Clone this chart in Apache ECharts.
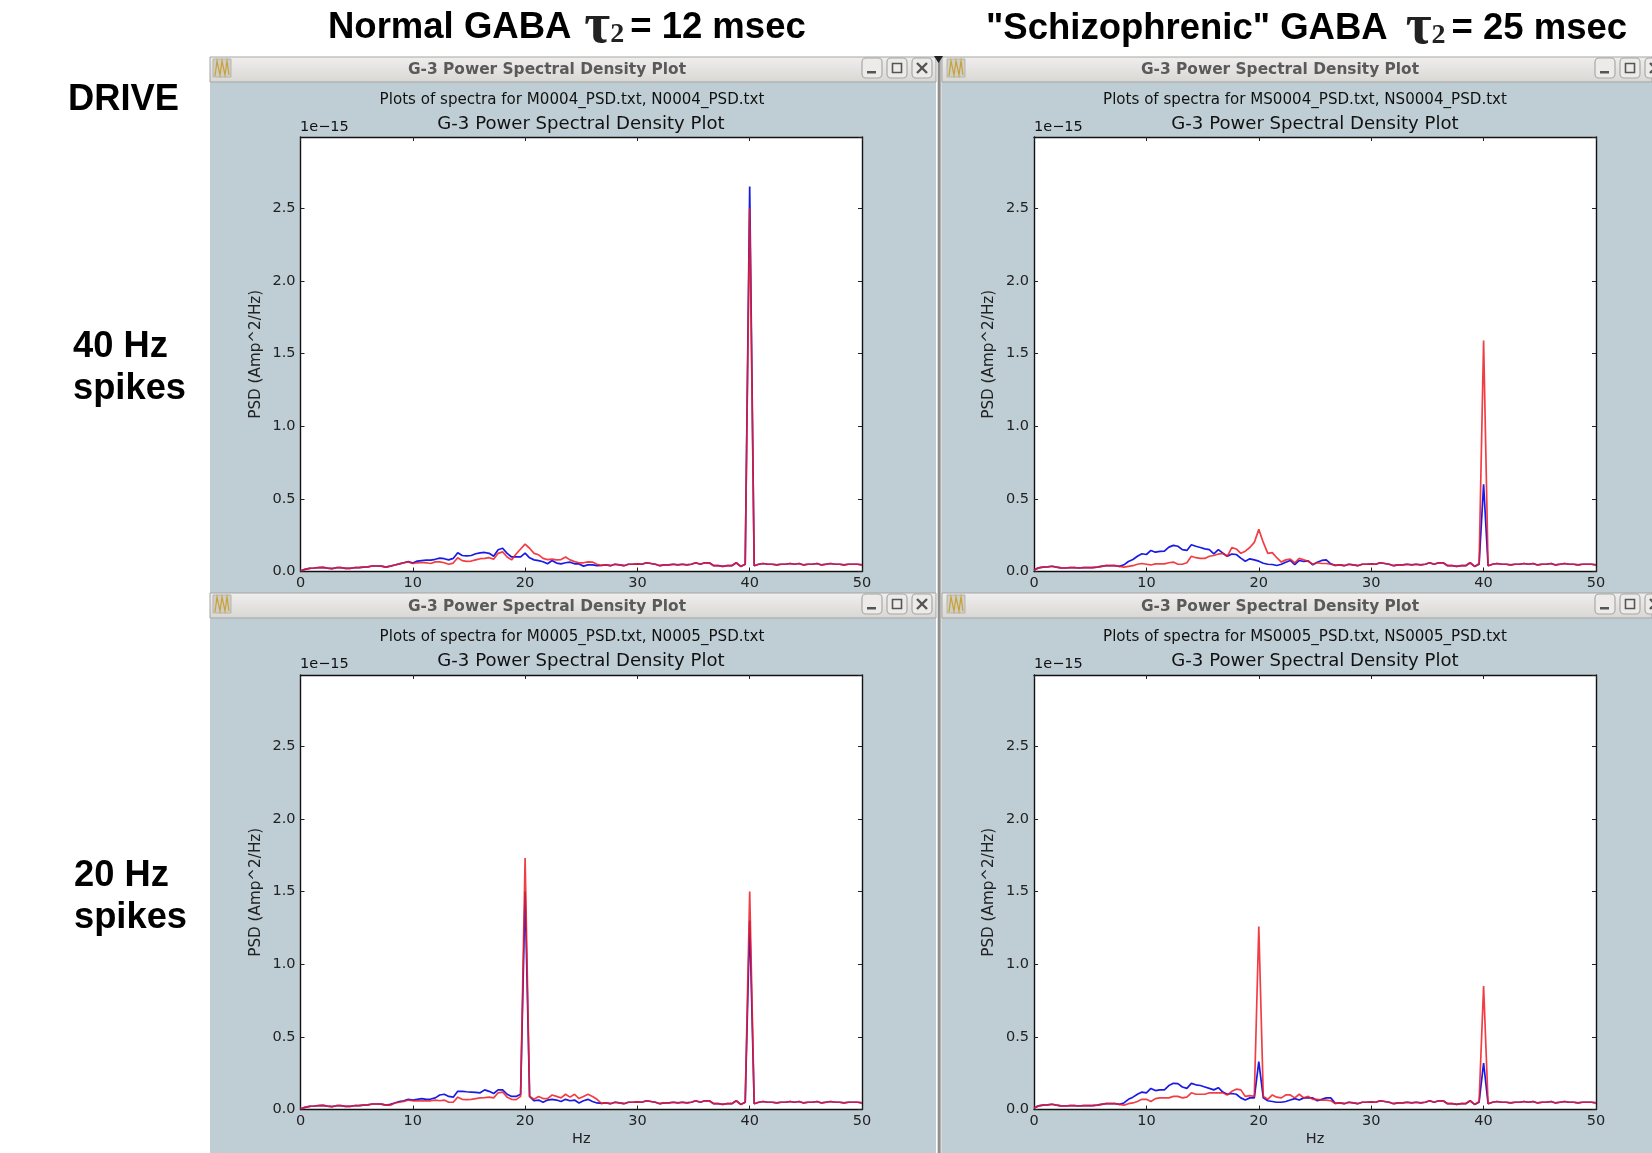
<!DOCTYPE html>
<html><head><meta charset="utf-8">
<style>html,body{margin:0;padding:0;background:#fff}#c{width:1652px;height:1153px}</style>
<script src="https://cdn.jsdelivr.net/npm/echarts@6/dist/echarts.min.js"></script></head>
<body><div id="c"></div>
<script>
// frequency grid, Hz
const freq = [0,.4,.8,1.2,1.6,2,2.4,2.8,3.2,3.6,4,4.4,4.8,5.2,5.6,6,6.4,6.8,7.2,7.6,
8,8.4,8.8,9.2,9.6,10,10.4,10.8,11.2,11.6,12,12.4,12.8,13.2,13.6,14,14.4,14.8,15.2,15.6,
16,16.4,16.8,17.2,17.6,18,18.4,18.8,19.2,19.6,20,20.4,20.8,21.2,21.6,22,22.4,22.8,23.2,23.6,
24,24.4,24.8,25.2,25.6,26,26.4,26.8,27.2,27.6,28,28.4,28.8,29.2,29.6,30,30.4,30.8,31.2,31.6,
32,32.4,32.8,33.2,33.6,34,34.4,34.8,35.2,35.6,36,36.4,36.8,37.2,37.6,38,38.4,38.8,39.2,39.6,
40,40.4,40.8,41.2,41.6,42,42.4,42.8,43.2,43.6,44,44.4,44.8,45.2,45.6,46,46.4,46.8,47.2,47.6,
48,48.4,48.8,49.2,49.6,50];

// shared low end and tails (0-7.6 Hz, 26.8-39.2 Hz, 40.8-50 Hz)
const lowN = [.005,.015,.022,.024,.027,.028,.023,.02,.026,.027,.022,.022,.026,.027,.03,.032,.038,.038,.037,.03];
const lowS = [.01,.025,.03,.032,.036,.03,.025,.024,.027,.027,.024,.026,.027,.027,.03,.035,.04,.04,.04,.035];
const tailMid = [.042,.045,.04,.05,.045,.04,.05,.05,.052,.05,.06,.055,.05,.04,.045,.045,.05,.045,.05,.045,.05,.06,.05,.06,.06,.04,.04,.035,.04,.04,.06,.035];
const tailEnd = [.05,.055,.05,.05,.045,.05,.05,.055,.05,.055,.045,.05,.05,.055,.045,.05,.055,.05,.05,.045,.05,.05,.05,.045];

// 8-26.4 Hz parts (47 values each)
const blueA = [.037,.045,.052,.06,.068,.058,.072,.075,.078,.078,.084,.092,.088,.08,.09,.129,.11,.107,.11,.122,
.128,.131,.125,.105,.15,.16,.125,.1,.1,.1,.126,.094,.08,.075,.067,.053,.076,.058,.053,.06,
.064,.053,.052,.037,.046,.046,.041];
const redA = [.037,.045,.052,.06,.066,.055,.06,.062,.06,.055,.066,.066,.06,.05,.058,.095,.075,.07,.072,.08,
.088,.09,.095,.085,.125,.135,.1,.08,.12,.155,.188,.16,.125,.115,.09,.082,.085,.08,.082,.1,
.08,.068,.06,.06,.066,.065,.05];
const blueB = [.046,.069,.083,.105,.122,.117,.145,.133,.138,.14,.168,.18,.174,.15,.145,.184,.174,.165,.156,.15,
.122,.15,.126,.105,.12,.117,.092,.071,.087,.08,.071,.057,.05,.048,.041,.05,.064,.076,.048,.076,
.069,.073,.046,.064,.076,.08,.053];
const redB = [.03,.035,.04,.05,.055,.05,.045,.052,.052,.052,.06,.065,.05,.05,.06,.105,.095,.09,.09,.105,
.11,.12,.125,.105,.165,.155,.125,.14,.165,.2,.29,.2,.125,.13,.095,.065,.08,.085,.06,.09,
.08,.07,.05,.06,.055,.055,.05];
const blueC = [.035,.045,.055,.06,.07,.065,.07,.075,.07,.072,.08,.1,.105,.09,.085,.125,.125,.122,.12,.118,
.115,.135,.125,.11,.135,.135,.105,.09,.09,.105,1.5,.09,.06,.065,.05,.065,.07,.065,.055,.07,
.06,.065,.045,.06,.07,.055,.045];
const redC = [.03,.045,.05,.055,.065,.06,.06,.06,.06,.06,.065,.06,.065,.05,.05,.085,.07,.068,.07,.075,
.08,.082,.085,.08,.115,.12,.085,.07,.068,.09,1.73,.09,.07,.09,.075,.075,.1,.09,.08,.105,
.085,.105,.075,.09,.105,.09,.07];
const blueD = [.045,.07,.085,.105,.12,.115,.145,.13,.135,.135,.165,.18,.178,.155,.145,.18,.17,.165,.155,.145,
.135,.15,.12,.105,.11,.105,.08,.065,.08,.08,.33,.08,.06,.055,.05,.05,.055,.065,.075,.065,
.08,.08,.08,.06,.07,.08,.08];
const redD = [.03,.04,.045,.055,.07,.07,.055,.075,.08,.08,.08,.09,.09,.08,.085,.115,.105,.105,.105,.115,
.115,.115,.115,.1,.125,.14,.135,.09,.095,.09,1.26,.09,.07,.1,.085,.08,.1,.1,.08,.105,
.08,.09,.07,.07,.065,.065,.06];

// spikes around 40 Hz: 39.6, 40, 40.4
const spikeBlueA = [.05,2.65,.04], spikeRedA = [.05,2.5,.04];
const spikeBlueB = [.05,.6,.04],  spikeRedB = [.055,1.59,.04];
const spikeBlueC = [.05,1.3,.04], spikeRedC = [.05,1.5,.04];
const spikeBlueD = [.05,.32,.04], spikeRedD = [.055,.85,.04];

const yTicks = ['0.0','0.5','1.0','1.5','2.0','2.5'];
const xTicks = ['0','10','20','30','40','50'];
const mainTitle = 'G-3 Power Spectral Density Plot';
const subtitles = ['Plots of spectra for M0004_PSD.txt, N0004_PSD.txt','Plots of spectra for MS0004_PSD.txt, NS0004_PSD.txt',
 'Plots of spectra for M0005_PSD.txt, N0005_PSD.txt','Plots of spectra for MS0005_PSD.txt, NS0005_PSD.txt'];

const join = (low, mid, spike) => low.concat(mid, tailMid, spike, tailEnd);
const pair = v => freq.map((f,i)=>[f,v[i]]);
const panels = [
 {low:lowN, blue:blueA, red:redA, sb:spikeBlueA, sr:spikeRedA},
 {low:lowS, blue:blueB, red:redB, sb:spikeBlueB, sr:spikeRedB},
 {low:lowN, blue:blueC, red:redC, sb:spikeBlueC, sr:spikeRedC},
 {low:lowS, blue:blueD, red:redD, sb:spikeBlueD, sr:spikeRedD}
];
const PL=[300.5,1034], PW=[561.5,562], PT=[137,675], PH=[434.5,434.5];
const font='"DejaVu Sans"';
const grids=[],xA=[],yA=[],series=[],g=[];
// window chrome
const panelC='#bfced5';
g.push({type:'rect',shape:{x:210,y:57,width:726,height:1096},style:{fill:panelC},z:0});
g.push({type:'rect',shape:{x:942,y:57,width:710,height:1096},style:{fill:panelC},z:0});
g.push({type:'rect',shape:{x:937,y:57,width:5,height:1096},style:{fill:'#d8d8d6'},z:0});
g.push({type:'rect',shape:{x:938,y:60,width:2.5,height:1093},style:{fill:'#8f8f8f'},z:0});
panels.forEach((p,i)=>{
  const c=i%2,r=i>>1;
  g.push({type:'rect',shape:{x:PL[c],y:PT[r],width:PW[c],height:PH[r]},style:{fill:'#fff'},z:0});
  grids.push({left:PL[c],top:PT[r],width:PW[c],height:PH[r],show:false,containLabel:false});
  const tick={show:true,inside:true,length:4,lineStyle:{color:'#222',width:1}};
  const line={show:true,onZero:false,lineStyle:{color:'#111',width:1.4}};
  xA.push({type:'value',gridIndex:i,min:0,max:50,interval:10,position:'bottom',splitLine:{show:false},axisLine:line,axisTick:tick,
    axisLabel:{color:'#222',fontFamily:font,fontSize:14.5,margin:4,hideOverlap:false,formatter:v=>xTicks[v/10]},
    name:r==1?'Hz':'',nameLocation:'middle',nameGap:22,nameTextStyle:{color:'#222',fontFamily:font,fontSize:14.5}});
  xA.push({type:'value',gridIndex:i,min:0,max:50,interval:10,position:'top',splitLine:{show:false},axisLine:line,axisTick:tick,axisLabel:{show:false}});
  yA.push({type:'value',gridIndex:i,min:0,max:2.99,interval:.5,position:'left',splitLine:{show:false},axisLine:line,axisTick:tick,
    axisLabel:{color:'#222',fontFamily:font,fontSize:14.5,margin:5,padding:[7,0,0,0],showMaxLabel:false,formatter:v=>{const k=Math.round(v*2);return k<yTicks.length?yTicks[k]:'';}},
    name:'PSD (Amp^2/Hz)',nameLocation:'middle',nameGap:37,nameTextStyle:{color:'#222',fontFamily:font,fontSize:15.2}});
  yA.push({type:'value',gridIndex:i,min:0,max:2.99,interval:.5,position:'right',splitLine:{show:false},axisLine:line,axisTick:tick,axisLabel:{show:false}});
  const common={type:'line',xAxisIndex:i*2,yAxisIndex:i*2,showSymbol:false,symbol:'none',animation:false,silent:true};
  series.push(Object.assign({},common,{name:'M'+i,data:pair(join(p.low,p.blue,p.sb)),lineStyle:{color:'#1a1ae6',width:1.7}}));
  series.push(Object.assign({},common,{name:'N'+i,data:pair(join(p.low,p.red,p.sr)),lineStyle:{color:'#ee1c25',width:1.7,opacity:.85}}));
});
g.push({type:'polygon',shape:{points:[[934,56],[943,56],[938.5,63]]},style:{fill:'#222'},z:3});
const txt=(x,y,t,o)=>g.push({type:'text',x,y,z:5,style:Object.assign({text:t,fill:'#111',font:'14px '+font,textAlign:'center',textVerticalAlign:'middle'},o||{})});
[[210,57,726,0],[942,57,710,1],[210,593,726,2],[942,593,710,3]].forEach(([x,y,w,i])=>{
  const c=i%2,r=i>>1, off=c?734:0, dy=r?536:0, ty=r?537:0;
  g.push({type:'rect',shape:{x,y,width:w,height:25},z:1,style:{fill:new echarts.graphic.LinearGradient(0,0,0,1,[{offset:0,color:'#f0efed'},{offset:1,color:'#d9d7d4'}]),stroke:'#a3a5a5',lineWidth:1}});
  // app icon
  g.push({type:'rect',shape:{x:213+off,y:59+dy,width:18,height:18},z:2,style:{fill:'#cfcfc4',stroke:'#b5b5ab',lineWidth:1}});
  g.push({type:'polyline',shape:{points:[[215,76],[217,61],[220,75],[222,61],[225,75],[227,61],[229,75]].map(q=>[q[0]+off,q[1]+dy])},z:3,style:{fill:'none',stroke:'#c9a13c',lineWidth:1.2}});
  // window buttons
  [[862,'min'],[887,'max'],[912,'x']].forEach(([bx,k])=>{
    const X=bx+(c?733:0),Y=58+dy;
    if(X>1652) return;
    g.push({type:'rect',shape:{x:X,y:Y,width:20,height:20,r:4},z:2,style:{fill:'#ecebe9',stroke:'#a8a8a6',lineWidth:1.2}});
    if(k==='min') g.push({type:'rect',shape:{x:X+5,y:Y+13,width:9,height:2.5},z:3,style:{fill:'#555'}});
    if(k==='max') g.push({type:'rect',shape:{x:X+5.5,y:Y+5.5,width:9,height:9},z:3,style:{fill:'none',stroke:'#555',lineWidth:1.6}});
    if(k==='x'){[[X+5,Y+5,X+15,Y+15],[X+15,Y+5,X+5,Y+15]].forEach(a=>g.push({type:'line',shape:{x1:a[0],y1:a[1],x2:a[2],y2:a[3]},z:3,style:{stroke:'#555',lineWidth:2.4}}));}
  });
  const tc=[547,1280][c];
  txt(tc,70+ty,mainTitle,{font:'bold 15.4px '+font,fill:'#5a5a5a'});
  txt([572,1305][c],100.5+ty,subtitles[i],{font:'15.1px '+font,fill:'#111'});
  txt([581,1315][c],124.5+ty,mainTitle,{font:'18.1px '+font,fill:'#111'});
  txt([300,1034][c],127.5+ty,'1e\u221215',{font:'14.5px '+font,fill:'#111',textAlign:'left'});
});
// heading text
const H='bold 36.5px "Liberation Sans"';
const head=(x,y,a,sub,b,gap)=>{
  g.push({type:'text',x,y,z:5,style:{text:'{a|'+a+'}{t|\u03c4}{s|'+sub+'}{a|'+b+'}',textVerticalAlign:'middle',
   rich:{a:{font:H,fill:'#000'},t:{font:'bold 56px "Liberation Serif"',fill:'#222',padding:[0,0,0,gap]},s:{font:'bold 28px "Liberation Serif"',fill:'#222',padding:[14,6,0,0]}}}});
};
head(328,28,'Normal GABA','2','= 12 msec',13);
head(986,29,'"Schizophrenic" GABA','2','= 25 msec',18);
[[68,100,'DRIVE'],[73,347,'40 Hz'],[73,389,'spikes'],[74,876,'20 Hz'],[74,918,'spikes']].forEach(a=>txt(a[0],a[1],a[2],{font:'bold 36.3px "Liberation Sans"',textAlign:'left',fill:'#000'}));

const chart=echarts.init(document.getElementById('c'),null,{renderer:'canvas'});
chart.setOption({animation:false,backgroundColor:'#fff',grid:grids,xAxis:xA,yAxis:yA,series,graphic:{elements:g},tooltip:{show:false},legend:{show:false}});
</script></body></html>
